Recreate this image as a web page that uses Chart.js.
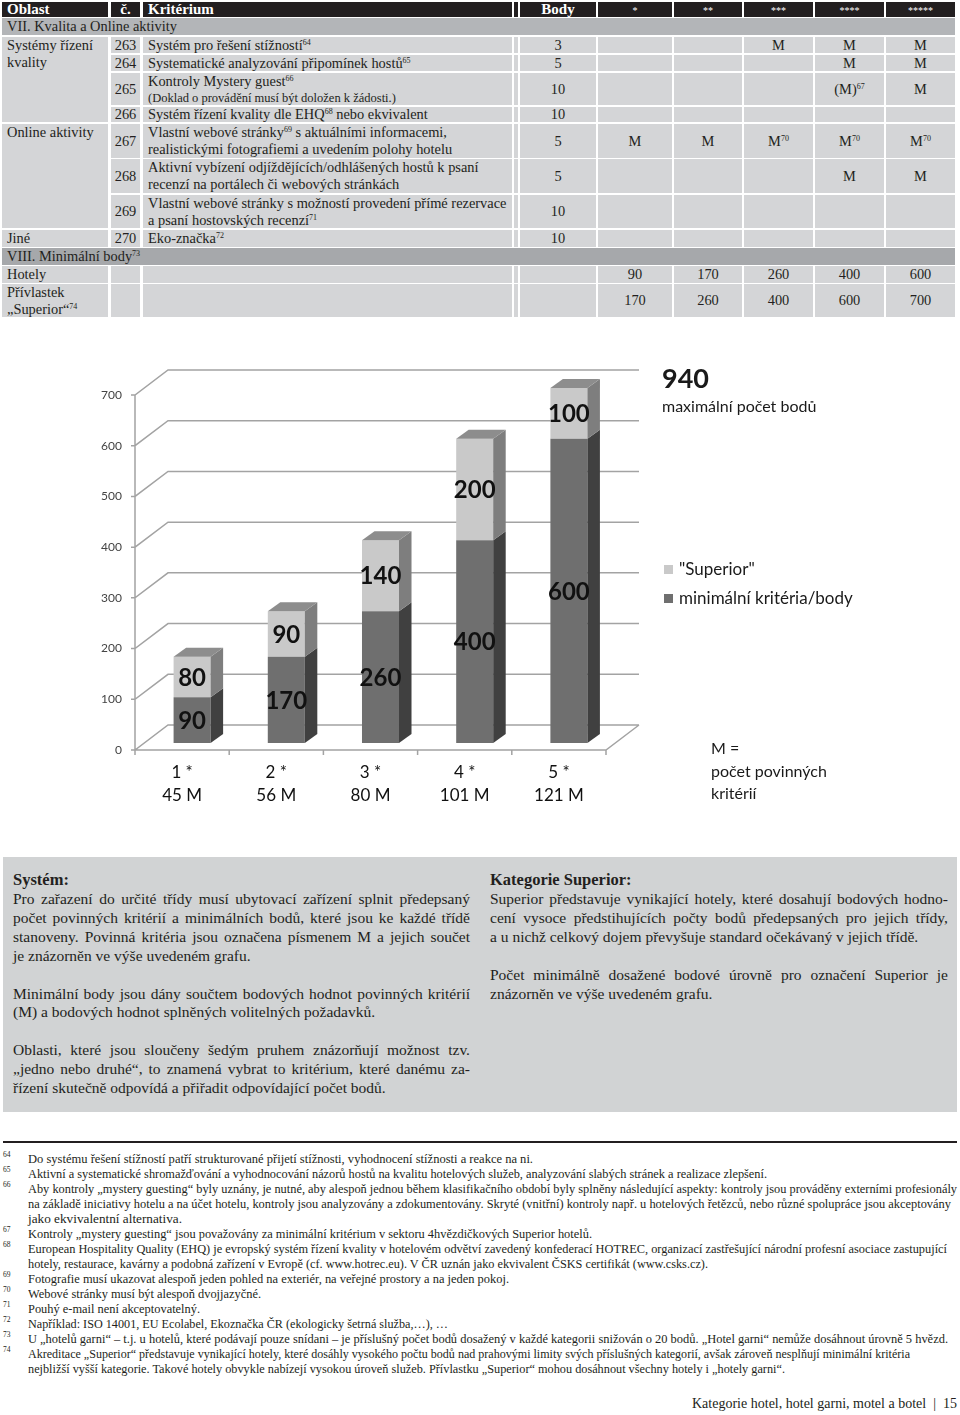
<!DOCTYPE html>
<html lang="cs">
<head>
<meta charset="utf-8">
<title>Kategorie hotel – minimální body</title>
<script src="https://cdn.jsdelivr.net/npm/chart.js@4.4.1/dist/chart.umd.min.js"></script>
<style>
  html, body { margin: 0; padding: 0; }
  body { width: 960px; height: 1415px; position: relative; overflow: hidden; background: #fff;
         font-family: "Liberation Serif", "DejaVu Serif", serif; color: #231f20; }
  .cell { position: absolute; box-sizing: border-box; display: flex; align-items: center; justify-content: center;
          background: #d4d5d7; font-size: 14.4px; line-height: 17px; white-space: nowrap; }
  .cell.l { justify-content: flex-start; padding-left: 5px; }
  .cell.t { align-items: flex-start; }
  .cell.hd { background: #231f20; color: #fff; font-weight: bold; font-size: 15px; }
  .cell.sec { background: #b3b5b8; }
  .cell.sec2 { background: #a6a8ab; }
  .star { font-size: 10px; font-weight: normal; }
  sup { font-size: 8px; line-height: 0; vertical-align: 5px; }
  .small { font-size: 12.5px; }
  .chartbox { position: absolute; left: 0; top: 330px; width: 960px; height: 500px; }
  .ann { position: absolute; font-family: Lato, sans-serif; color: #1a1a1a; white-space: nowrap; }
  .sq { position: absolute; width: 9px; height: 9px; }
  .box { position: absolute; left: 3px; top: 857px; width: 954px; height: 255px; background: #d1d3d4; }
  .ln { position: absolute; white-space: nowrap; font-size: 15.5px; line-height: 19px; }
  .fn { position: absolute; left: 28px; white-space: nowrap; font-size: 12px; line-height: 15px; transform-origin: 0 50%; }
  .fnn { position: absolute; left: 3px; font-size: 7.5px; line-height: 10px; }
  .rule { position: absolute; left: 3px; top: 1141px; width: 954px; height: 2px; background: #231f20; }
</style>
</head>
<body>
<div id="tbl"></div>

<div class="chartbox"><canvas id="pointsChart" width="960" height="500"></canvas></div>

<div class="ann" style="left:662px;top:363px;font-size:27px;line-height:30px;font-weight:bold">940</div>
<div class="ann" style="left:662px;top:396px;font-size:16px;line-height:20px">maximální počet bodů</div>
<div class="sq" style="left:664px;top:565px;background:#c9c9c9"></div>
<div class="ann" style="left:679px;top:559px;font-size:17px;line-height:20px">"Superior"</div>
<div class="sq" style="left:664px;top:594px;background:#6f6f6f"></div>
<div class="ann" style="left:679px;top:588px;font-size:17px;line-height:20px">minimální kritéria/body</div>
<div class="ann" style="left:711px;top:737px;font-size:16px;line-height:22.5px">M =<br>počet povinných<br>kritérií</div>

<div class="box"></div>
<div id="text"></div>
<div class="rule"></div>
<div id="notes"></div>
<div class="ln fit" data-w="265" style="left:692px;top:1394px;font-size:14.5px">Kategorie hotel, hotel garni, motel a botel&nbsp;&nbsp;|&nbsp;&nbsp;15</div>

<script>
// chart data
const categories = [['1 *', '45 M'], ['2 *', '56 M'], ['3 *', '80 M'], ['4 *', '101 M'], ['5 *', '121 M']];
const minimumPoints = [90, 170, 260, 400, 600];
const superiorExtra = [80, 90, 140, 200, 100];
const yTicks = [0, 100, 200, 300, 400, 500, 600, 700];

// ---- table ----
const tbl = document.getElementById('tbl');
const COLS = { A: [2, 106], B: [111, 29], C: [143, 369], N: [514, 4], D: [520, 76],
    S1: [598, 74], S2: [674, 68], S3: [744, 69], S4: [815, 69], S5: [886, 69] };
const ORDER = ['A', 'B', 'C', 'N', 'D', 'S1', 'S2', 'S3', 'S4', 'S5'];

function cell(x, y, w, h, html, cls) {
    const d = document.createElement('div');
    d.className = 'cell ' + (cls || '');
    d.style.cssText = 'left:' + x + 'px;top:' + y + 'px;width:' + w + 'px;height:' + h + 'px';
    d.innerHTML = html ? '<div>' + html + '</div>' : '';
    tbl.appendChild(d);
}
function row(y, h, vals, cls, skipA) {
    ORDER.forEach(function (k) {
        if (k === 'A' && skipA) return;
        const c = COLS[k];
        cell(c[0], y, c[1], h, vals[k], (cls || '') + (k === 'A' || k === 'C' ? ' l' : ''));
    });
}

row(2, 15, { A: 'Oblast', B: 'č.', C: 'Kritérium', D: 'Body',
    S1: '<span class="star">*</span>', S2: '<span class="star">**</span>', S3: '<span class="star">***</span>',
    S4: '<span class="star">****</span>', S5: '<span class="star">*****</span>' }, 'hd');
cell(2, 18, 953, 17, 'VII. Kvalita a Online aktivity', 'sec l');

cell(2, 37, 106, 85, 'Systémy řízení<br>kvality', 'l t');
row(37, 16, { B: '263', C: 'Systém pro řešení stížností<sup>64</sup>', D: '3', S3: 'M', S4: 'M', S5: 'M' }, '', true);
row(55, 16, { B: '264', C: 'Systematické analyzování připomínek hostů<sup>65</sup>', D: '5', S4: 'M', S5: 'M' }, '', true);
row(73, 32, { B: '265', C: '<div style="line-height:16px">Kontroly Mystery guest<sup>66</sup><br><span class="small">(Doklad o provádění musí být doložen k žádosti.)</span></div>',
    D: '10', S4: '(M)<sup>67</sup>', S5: 'M' }, '', true);
row(107, 15, { B: '266', C: 'Systém řízení kvality dle EHQ<sup>68</sup> nebo ekvivalent', D: '10' }, '', true);

cell(2, 124, 106, 104, 'Online aktivity', 'l t');
row(124, 34, { B: '267', C: 'Vlastní webové stránky<sup>69</sup> s aktuálními informacemi,<br>realistickými fotografiemi a uvedením polohy hotelu',
    D: '5', S1: 'M', S2: 'M', S3: 'M<sup>70</sup>', S4: 'M<sup>70</sup>', S5: 'M<sup>70</sup>' }, '', true);
row(159, 34, { B: '268', C: 'Aktivní vybízení odjíždějících/odhlášených hostů k psaní<br>recenzí na portálech či webových stránkách',
    D: '5', S4: 'M', S5: 'M' }, '', true);
row(195, 33, { B: '269', C: 'Vlastní webové stránky s možností provedení přímé rezervace<br>a psaní hostovských recenzí<sup>71</sup>',
    D: '10' }, '', true);
row(230, 17, { A: 'Jiné', B: '270', C: 'Eko-značka<sup>72</sup>', D: '10' });
cell(2, 248, 953, 17, 'VIII. Minimální body<sup>73</sup>', 'sec2 l');
row(266, 17, { A: 'Hotely', S1: '90', S2: '170', S3: '260', S4: '400', S5: '600' });
row(284, 33, { S1: '170', S2: '260', S3: '400', S4: '600', S5: '700' }, '', true);
cell(2, 284, 106, 33, 'Přívlastek<br>„Superior“<sup>74</sup>', 'l t');

// ---- chart ----
const DEPTH = { x: 12.5, y: -9 };   // depth of a bar
const WALL = { x: 33, y: -25 };     // floor depth, front edge -> back wall
const FRONT = { x: -10, y: 7 };     // bar plane -> front edge of floor
const faces = [
    { side: '#404040', top: '#5c5c5c' },
    { side: '#7e7e7e', top: '#8d8d8d' }
];

function poly(ctx, pts, fill) {
    ctx.beginPath();
    ctx.moveTo(pts[0][0], pts[0][1]);
    for (let i = 1; i < pts.length; i++) ctx.lineTo(pts[i][0], pts[i][1]);
    ctx.closePath();
    ctx.fillStyle = fill;
    ctx.fill();
}

const box3d = {
    id: 'box3d',
    beforeDatasetsDraw(chart) {
        const ctx = chart.ctx, xs = chart.scales.x, ys = chart.scales.y;
        const x0 = xs.left + FRONT.x, x1 = xs.right + FRONT.x;
        const yb = ys.getPixelForValue(0) + FRONT.y, yt = ys.getPixelForValue(ys.max) + FRONT.y;
        ctx.save();
        ctx.strokeStyle = '#a3a3a3';
        ctx.lineWidth = 1.5;
        ctx.beginPath();
        ys.ticks.forEach(function (t) {
            const y = ys.getPixelForValue(t.value) + FRONT.y;
            ctx.moveTo(x0 - 4, y);
            ctx.lineTo(x0, y);
            ctx.lineTo(x0 + WALL.x, y + WALL.y);
            ctx.lineTo(x1 + WALL.x, y + WALL.y);
        });
        ctx.moveTo(x0, yt);
        ctx.lineTo(x0, yb);
        ctx.lineTo(x1, yb);
        ctx.lineTo(x1 + WALL.x, yb + WALL.y);
        const n = chart.data.labels.length, step = (x1 - x0) / n;
        for (let i = 0; i <= n; i++) {
            ctx.moveTo(x0 + i * step, yb);
            ctx.lineTo(x0 + i * step, yb + 5);
        }
        ctx.stroke();
        ctx.restore();
    },
    afterDatasetsDraw(chart) {
        const ctx = chart.ctx;
        const last = chart.data.datasets.length - 1;
        ctx.save();
        chart.data.datasets.forEach(function (ds, di) {
            chart.getDatasetMeta(di).data.forEach(function (el) {
                const l = el.x - el.width / 2, r = el.x + el.width / 2;
                poly(ctx, [[r, el.y], [r + DEPTH.x, el.y + DEPTH.y], [r + DEPTH.x, el.base + DEPTH.y], [r, el.base]], faces[di].side);
                if (di === last) {
                    poly(ctx, [[l, el.y], [l + DEPTH.x, el.y + DEPTH.y], [r + DEPTH.x, el.y + DEPTH.y], [r, el.y]], faces[di].top);
                }
            });
        });
        ctx.fillStyle = '#111';
        ctx.font = 'bold 24px Lato, sans-serif';
        ctx.textAlign = 'center';
        ctx.textBaseline = 'middle';
        chart.data.datasets.forEach(function (ds, di) {
            chart.getDatasetMeta(di).data.forEach(function (el, i) {
                ctx.fillText(String(ds.data[i]), el.x, (el.y + el.base) / 2 + 1);
            });
        });
        ctx.restore();
    }
};

new Chart(document.getElementById('pointsChart'), {
    type: 'bar',
    data: {
        labels: categories,
        datasets: [
            { label: 'minimální kritéria/body', data: minimumPoints, backgroundColor: '#6f6f6f' },
            { label: '"Superior"', data: superiorExtra, backgroundColor: '#c9c9c9' }
        ]
    },
    options: {
        responsive: false, animation: false,
        datasets: { bar: { barPercentage: 0.393, categoryPercentage: 1, borderWidth: 0 } },
        layout: { padding: { top: 58, right: 344, left: 0, bottom: 0 } },
        plugins: { legend: { display: false }, tooltip: { enabled: false } },
        scales: {
            x: {
                stacked: true,
                grid: { display: false, drawTicks: false }, border: { display: false },
                ticks: { padding: 18, labelOffset: -10, color: '#111', font: { family: 'Lato', size: 17, lineHeight: '23px' } },
                afterFit: function (s) { s.height = 87; }
            },
            y: {
                stacked: true, min: 0, max: 700,
                grid: { display: false, drawTicks: false }, border: { display: false },
                ticks: { padding: 23, labelOffset: 7, color: '#444', font: { family: 'Lato', size: 12 } },
                afterBuildTicks: function (s) { s.ticks = yTicks.map(function (v) { return { value: v }; }); },
                afterFit: function (s) { s.width = 145; }
            }
        }
    },
    plugins: [box3d]
});

// ---- text box ----
const boxLines = [
    [13, 879, '<b>Systém:</b>', 0],
    [13, 898, 'Pro zařazení do určité třídy musí ubytovací zařízení splnit předepsaný', 457],
    [13, 917, 'počet povinných kritérií a minimálních bodů, které jsou ke každé třídě', 457],
    [13, 936, 'stanoveny. Povinná kritéria jsou označena písmenem M a jejich součet', 457],
    [13, 955, 'je znázorněn ve výše uvedeném grafu.', 0],
    [13, 993, 'Minimální body jsou dány součtem bodových hodnot povinných kritérií', 457],
    [13, 1011, '(M) a bodových hodnot splněných volitelných požadavků.', 0],
    [13, 1049, 'Oblasti, které jsou sloučeny šedým pruhem znázorňují možnost tzv.', 457],
    [13, 1068, '„jedno nebo druhé“, to znamená vybrat to kritérium, které danému za-', 457],
    [13, 1087, 'řízení skutečně odpovídá a přiřadit odpovídající počet bodů.', 0],
    [490, 879, '<b>Kategorie Superior:</b>', 0],
    [490, 898, 'Superior představuje vynikající hotely, které dosahují bodových hodno-', 458],
    [490, 917, 'cení vysoce předstihujících počty bodů předepsaných pro jejich třídy,', 458],
    [490, 936, 'a u nichž celkový dojem převyšuje standard očekávaný v jejich třídě.', 0],
    [490, 974, 'Počet minimálně dosažené bodové úrovně pro označení Superior je', 458],
    [490, 993, 'znázorněn ve výše uvedeném grafu.', 0]
];
const textEl = document.getElementById('text');
boxLines.forEach(function (b) {
    const d = document.createElement('div');
    d.className = 'ln';
    d.style.left = b[0] + 'px';
    d.style.top = (b[1] - 9.5) + 'px';
    if (b[2].indexOf('<b>') === 0) d.style.fontSize = '16.5px';
    d.innerHTML = b[2];
    textEl.appendChild(d);
    if (b[3]) {
        const spaces = (b[2].match(/ /g) || []).length;
        const extra = b[3] - d.getBoundingClientRect().width;
        d.style.wordSpacing = (extra / spaces) + 'px';
    }
});

// ---- footnotes ----
const notes = [
    ['64', 1159, 'Do systému řešení stížností patří strukturované přijetí stížnosti, vyhodnocení stížnosti a reakce na ni.', 533],
    ['65', 1174, 'Aktivní a systematické shromažďování a vyhodnocování názorů hostů na kvalitu hotelových služeb, analyzování slabých stránek a realizace zlepšení.', 767],
    ['66', 1189, 'Aby kontroly „mystery guesting“ byly uznány, je nutné, aby alespoň jednou během klasifikačního období byly splněny následující aspekty: kontroly jsou prováděny externími profesionály', 957],
    ['', 1204, 'na základě iniciativy hotelu a na účet hotelu, kontroly jsou analyzovány a zdokumentovány. Skryté (vnitřní) kontroly např. u hotelových řetězců, nebo různé spolupráce jsou akceptovány', 951],
    ['', 1219, 'jako ekvivalentní alternativa.', 182],
    ['67', 1234, 'Kontroly „mystery guesting“ jsou považovány za minimální kritérium v sektoru 4hvězdičkových Superior hotelů.', 592],
    ['68', 1249, 'European Hospitality Quality (EHQ) je evropský systém řízení kvality v hotelovém odvětví zavedený konfederací HOTREC, organizací zastřešující národní profesní asociace zastupující', 947],
    ['', 1264, 'hotely, restaurace, kavárny a podobná  zařízení v Evropě (cf. www.hotrec.eu). V ČR uznán jako ekvivalent ČSKS certifikát (www.csks.cz).', 708],
    ['69', 1279, 'Fotografie musí ukazovat alespoň jeden pohled na exteriér, na veřejné prostory a na jeden pokoj.', 509],
    ['70', 1294, 'Webové stránky musí být alespoň dvojjazyčné.', 261],
    ['71', 1309, 'Pouhý e-mail není akceptovatelný.', 200],
    ['72', 1324, 'Například: ISO 14001, EU Ecolabel, Ekoznačka ČR (ekologicky šetrná služba,…), …', 448],
    ['73', 1339, 'U „hotelů garni“ – t.j. u hotelů, které podávají pouze snídani – je příslušný počet bodů dosažený v každé kategorii snižován o 20 bodů. „Hotel garni“ nemůže dosáhnout úrovně 5 hvězd.', 948],
    ['74', 1354, 'Akreditace „Superior“ představuje vynikající hotely, které dosáhly vysokého počtu bodů nad prahovými limity svých příslušných kategorií, avšak zároveň nesplňují minimální kritéria', 910],
    ['', 1369, 'nejbližší vyšší kategorie. Takové hotely obvykle nabízejí vysokou úroveň služeb. Přívlastku „Superior“ mohou dosáhnout všechny hotely i „hotely garni“.', 785]
];
const notesEl = document.getElementById('notes');
notes.forEach(function (n) {
    if (n[0]) {
        const s = document.createElement('div');
        s.className = 'fnn';
        s.style.top = (n[1] - 9) + 'px';
        s.textContent = n[0];
        notesEl.appendChild(s);
    }
    const d = document.createElement('div');
    d.className = 'fn';
    d.style.top = (n[1] - 7.5) + 'px';
    d.textContent = n[2];
    notesEl.appendChild(d);
    const w = d.getBoundingClientRect().width;
    d.style.transform = 'scaleX(' + ((n[3] - 28) / w) + ')';
});

document.querySelectorAll('.fit').forEach(function (d) {
    const w = d.getBoundingClientRect().width;
    d.style.transformOrigin = '0 50%';
    d.style.transform = 'scaleX(' + (parseFloat(d.dataset.w) / w) + ')';
});
</script>
</body>
</html>
